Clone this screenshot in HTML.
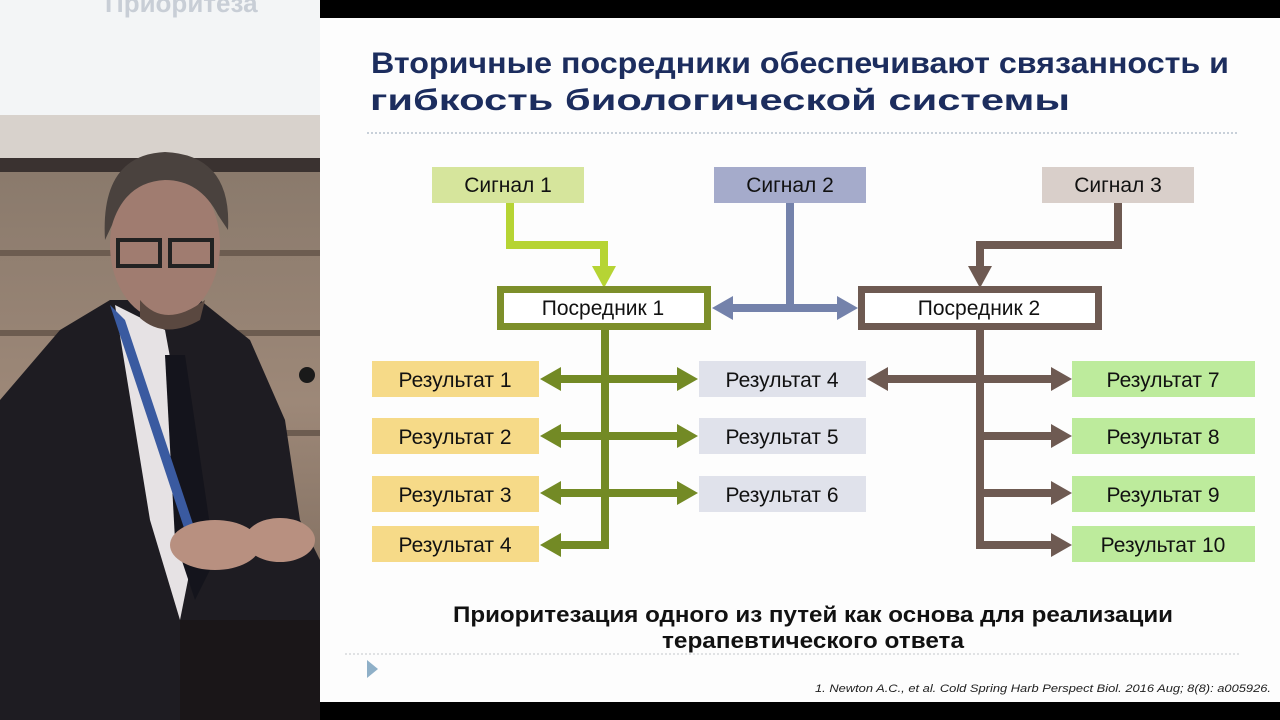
<!DOCTYPE html>
<html><head><meta charset="utf-8"><style>
html,body{margin:0;padding:0;width:1280px;height:720px;overflow:hidden;background:#000}
svg{display:block}
text{font-family:"Liberation Sans",Arial,sans-serif}
</style></head><body>
<svg width="1280" height="720" viewBox="0 0 1280 720" xmlns="http://www.w3.org/2000/svg">
<defs>
<linearGradient id="wall" x1="0" y1="0" x2="0" y2="1">
<stop offset="0" stop-color="#8a7a6c"/><stop offset="0.5" stop-color="#9d8878"/><stop offset="1" stop-color="#7c6a5c"/>
</linearGradient>
</defs>
<!-- left photo -->
<rect x="0" y="0" width="320" height="720" fill="#2a2426"/>
<rect x="0" y="0" width="320" height="115" fill="#f3f5f6"/>
<text x="105" y="12" font-size="26" font-weight="bold" fill="#c8ced6">Приоритеза</text>
<rect x="0" y="115" width="320" height="45" fill="#d8d2cc"/>
<rect x="0" y="158" width="320" height="14" fill="#3a3230"/>
<rect x="0" y="172" width="320" height="460" fill="url(#wall)"/>
<rect x="0" y="250" width="320" height="6" fill="#6c5c50"/>
<rect x="0" y="330" width="320" height="6" fill="#6c5c50"/>
<rect x="0" y="430" width="320" height="6" fill="#6c5c50"/>
<path d="M0 400 L60 330 L110 300 L200 300 L250 340 L285 420 L300 520 L320 560 L320 720 L0 720 Z" fill="#1e1c22"/>
<path d="M115 305 L165 330 L200 520 L180 620 L150 520 Z" fill="#e6e2e4"/>
<path d="M165 355 L185 355 L215 560 L195 600 L175 540 Z" fill="#14141c"/>
<path d="M110 305 L125 320 L195 530 L188 540 Z" fill="#3a5aa0"/>
<ellipse cx="165" cy="245" rx="55" ry="75" fill="#a07c70"/>
<path d="M105 240 Q100 155 165 152 Q232 155 228 230 L218 215 Q200 180 165 180 Q125 182 112 225 Z" fill="#4a423e"/>
<rect x="118" y="240" width="42" height="26" fill="none" stroke="#222" stroke-width="4"/>
<rect x="170" y="240" width="42" height="26" fill="none" stroke="#222" stroke-width="4"/>
<path d="M140 300 Q165 330 205 300 L200 320 Q165 340 140 318 Z" fill="#5a4840"/>
<ellipse cx="215" cy="545" rx="45" ry="25" fill="#b89080"/>
<ellipse cx="280" cy="540" rx="35" ry="22" fill="#b89080"/>
<rect x="180" y="620" width="140" height="100" fill="#1a1618"/>
<circle cx="307" cy="375" r="8" fill="#1a1a1a"/>

<!-- slide -->
<rect x="320" y="0" width="960" height="18" fill="#000"/>
<rect x="320" y="18" width="960" height="684" fill="#fdfdfd"/>
<rect x="320" y="702" width="960" height="18" fill="#000"/>

<text x="800" y="73" font-size="30" font-weight="bold" fill="#1c2d5e" text-anchor="middle" textLength="858" lengthAdjust="spacingAndGlyphs">Вторичные посредники обеспечивают связанность и</text>
<text x="720" y="110" font-size="30" font-weight="bold" fill="#1c2d5e" text-anchor="middle" textLength="700" lengthAdjust="spacingAndGlyphs">гибкость биологической системы</text>
<line x1="367" y1="133" x2="1237" y2="133" stroke="#a8b6c4" stroke-width="1.2" stroke-dasharray="2,2"/>

<g font-size="21" text-anchor="middle" fill="#111">
<rect x="432" y="167" width="152" height="36" fill="#d6e59c"/>
<text x="508" y="192">Сигнал 1</text>
<rect x="714" y="167" width="152" height="36" fill="#a5abcb"/>
<text x="790" y="192">Сигнал 2</text>
<rect x="1042" y="167" width="152" height="36" fill="#d9cfca"/>
<text x="1118" y="192">Сигнал 3</text>
</g>

<polyline points="510,203 510,245 604,245 604,268" fill="none" stroke="#b6d434" stroke-width="8"/>
<polygon points="592,266 616,266 604,288" fill="#b6d434"/>
<line x1="790" y1="203" x2="790" y2="308" stroke="#7482ab" stroke-width="8"/>
<line x1="730" y1="308" x2="840" y2="308" stroke="#7482ab" stroke-width="8"/>
<polygon points="712,308 733,296 733,320" fill="#7482ab"/>
<polygon points="858,308 837,296 837,320" fill="#7482ab"/>
<polyline points="1118,203 1118,245 980,245 980,268" fill="none" stroke="#6e5a52" stroke-width="8"/>
<polygon points="968,266 992,266 980,288" fill="#6e5a52"/>

<rect x="500.5" y="289.5" width="207" height="37" fill="#fff" stroke="#7d8f2a" stroke-width="7"/>
<text x="603" y="315" font-size="21" text-anchor="middle" fill="#111">Посредник 1</text>
<rect x="861.5" y="289.5" width="237" height="37" fill="#fff" stroke="#6e5a52" stroke-width="7"/>
<text x="979" y="315" font-size="21" text-anchor="middle" fill="#111">Посредник 2</text>

<g fill="#738a25">
<rect x="601" y="330" width="8" height="217"/>
<rect x="556" y="375" width="124" height="8"/>
<rect x="556" y="432" width="124" height="8"/>
<rect x="556" y="489" width="124" height="8"/>
<rect x="556" y="541" width="53" height="8"/>
<polygon points="540,379 561,367 561,391"/><polygon points="698,379 677,367 677,391"/>
<polygon points="540,436 561,424 561,448"/><polygon points="698,436 677,424 677,448"/>
<polygon points="540,493 561,481 561,505"/><polygon points="698,493 677,481 677,505"/>
<polygon points="540,545 561,533 561,557"/>
</g>
<g fill="#6e5a52">
<rect x="976" y="330" width="8" height="217"/>
<rect x="884" y="375" width="172" height="8"/>
<rect x="976" y="432" width="80" height="8"/>
<rect x="976" y="489" width="80" height="8"/>
<rect x="976" y="541" width="80" height="8"/>
<polygon points="867,379 888,367 888,391"/><polygon points="1072,379 1051,367 1051,391"/>
<polygon points="1072,436 1051,424 1051,448"/>
<polygon points="1072,493 1051,481 1051,505"/>
<polygon points="1072,545 1051,533 1051,557"/>
</g>

<g font-size="21" text-anchor="middle" fill="#111">
<rect x="372" y="361" width="167" height="36" fill="#f6da88"/><text x="455" y="387">Результат 1</text>
<rect x="372" y="418" width="167" height="36" fill="#f6da88"/><text x="455" y="444">Результат 2</text>
<rect x="372" y="476" width="167" height="36" fill="#f6da88"/><text x="455" y="502">Результат 3</text>
<rect x="372" y="526" width="167" height="36" fill="#f6da88"/><text x="455" y="552">Результат 4</text>
<rect x="699" y="361" width="167" height="36" fill="#e0e2eb"/><text x="782" y="387">Результат 4</text>
<rect x="699" y="418" width="167" height="36" fill="#e0e2eb"/><text x="782" y="444">Результат 5</text>
<rect x="699" y="476" width="167" height="36" fill="#e0e2eb"/><text x="782" y="502">Результат 6</text>
<rect x="1072" y="361" width="183" height="36" fill="#bdeb9c"/><text x="1163" y="387">Результат 7</text>
<rect x="1072" y="418" width="183" height="36" fill="#bdeb9c"/><text x="1163" y="444">Результат 8</text>
<rect x="1072" y="476" width="183" height="36" fill="#bdeb9c"/><text x="1163" y="502">Результат 9</text>
<rect x="1072" y="526" width="183" height="36" fill="#bdeb9c"/><text x="1163" y="552">Результат 10</text>
</g>

<text x="813" y="622" font-size="22" font-weight="bold" text-anchor="middle" fill="#111" textLength="720" lengthAdjust="spacingAndGlyphs">Приоритезация одного из путей как основа для реализации</text>
<text x="813" y="648" font-size="22" font-weight="bold" text-anchor="middle" fill="#111" textLength="302" lengthAdjust="spacingAndGlyphs">терапевтического ответа</text>
<line x1="345" y1="654" x2="1240" y2="654" stroke="#c4c8cc" stroke-width="1" stroke-dasharray="2,2"/>
<polygon points="367,660 378,669 367,678" fill="#8fb0c8"/>
<text x="1271" y="692" font-size="11" font-style="italic" text-anchor="end" fill="#222" textLength="456" lengthAdjust="spacingAndGlyphs">1.    Newton A.C., et al. Cold Spring Harb Perspect Biol. 2016 Aug; 8(8): a005926.</text>
</svg>
</body></html>
